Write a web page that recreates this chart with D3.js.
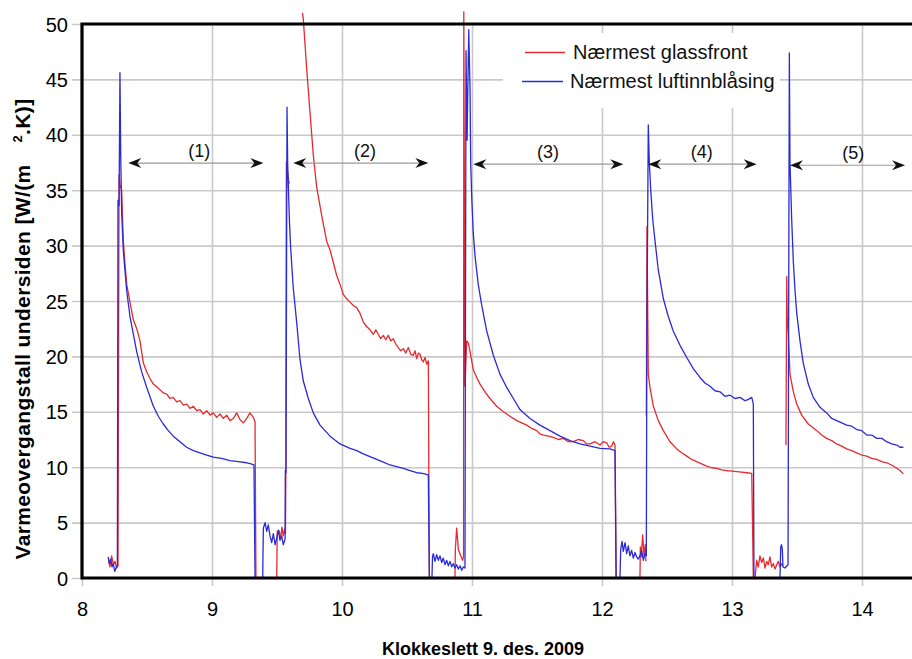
<!DOCTYPE html>
<html><head><meta charset="utf-8">
<script src="https://cdn.jsdelivr.net/npm/d3@7/dist/d3.min.js"></script>
<style>
body{margin:0;background:#fff}
text{font-family:"Liberation Sans",Arial,Helvetica,sans-serif}
</style>
</head><body>
<svg id="chart" width="912" height="659"></svg>
<script>
// ---------- data ----------
const hourTicks = [8, 9, 10, 11, 12, 13, 14];
const valueTicks = [0, 5, 10, 15, 20, 25, 30, 35, 40, 45, 50];
const seriesNames = ["Nærmest glassfront", "Nærmest luftinnblåsing"];
const xTitle = "Klokkeslett 9. des. 2009";
const yTitleMain = "Varmeovergangstall undersiden [W/(m";
const yTitleSup = "2";
const yTitleEnd = ".K)]";

// [clock time in hours, W/(m2K)] ; null = no data logged
const glassfront = [
 [8.202,1.8],[8.215,1.0],[8.228,2.0],[8.241,1.2],[8.254,1.5],[8.267,0.9],[8.277,1.1],
 [8.285,36.4],[8.292,35.5],[8.305,35.0],[8.318,30.4],[8.331,28.3],[8.344,26.5],[8.369,24.9],
 [8.395,23.3],[8.421,22.5],[8.446,21.4],[8.472,19.4],[8.498,18.6],[8.523,18.0],[8.549,17.5],
 [8.600,17.0],[8.626,16.7],[8.652,16.6],[8.677,16.2],[8.702,16.3],[8.728,15.9],[8.754,16.0],
 [8.780,15.6],[8.805,15.7],[8.831,15.3],[8.856,15.5],[8.882,15.1],[8.908,15.2],[8.933,14.8],
 [8.959,15.1],[8.985,14.7],[9.010,14.9],[9.036,14.5],[9.062,14.8],[9.087,14.4],[9.113,14.7],
 [9.138,14.2],[9.164,14.4],[9.190,14.9],[9.215,14.3],[9.241,14.0],[9.267,14.4],[9.292,14.9],
 [9.318,14.5],[9.331,14.1],[9.338,0],[9.498,0],[9.502,4.2],[9.515,4.3],[9.528,3.6],[9.538,4.6],
 [9.548,3.8],[9.559,4.4],[9.565,4.0],
 [9.568,9.5],[9.572,37.5],[9.579,36.8],[9.587,36.0],[9.595,35.6],[9.640,null],
 [9.696,51.0],[9.702,50.5],[9.728,46.0],[9.754,42.0],[9.779,38.2],[9.805,35.3],[9.844,32.7],
 [9.882,30.4],[9.908,29.6],[9.933,28.5],[9.959,27.3],[9.985,26.5],[10.010,25.6],[10.036,25.2],
 [10.062,24.9],[10.087,24.6],[10.113,24.4],[10.138,23.9],[10.164,23.1],[10.190,22.7],[10.215,22.4],
 [10.241,22.0],[10.260,22.4],[10.279,22.0],[10.298,21.6],[10.318,21.9],[10.337,21.5],[10.356,21.9],
 [10.375,21.4],[10.395,21.6],[10.414,21.1],[10.433,20.8],[10.452,20.5],[10.472,20.7],[10.491,20.3],
 [10.510,20.8],[10.529,20.2],[10.548,20.1],[10.562,20.5],[10.575,19.8],[10.588,20.3],[10.600,20.2],
 [10.613,19.7],[10.625,19.5],[10.639,19.9],[10.652,19.3],[10.664,19.6],[10.672,0],
 [10.869,0],[10.872,2.6],[10.882,4.5],[10.895,2.6],[10.913,2.0],[10.928,1.6],[10.935,2.0],
 [10.937,51.1],[10.946,17.3],[10.959,21.4],[10.972,21.2],[10.985,20.4],[11.010,18.8],[11.036,18.1],
 [11.062,17.5],[11.100,16.8],[11.138,16.2],[11.190,15.5],[11.241,15.0],[11.292,14.6],[11.344,14.2],
 [11.382,14.0],[11.421,13.8],[11.460,13.5],[11.498,13.3],[11.523,13.0],[11.549,12.9],[11.587,12.8],
 [11.625,12.7],[11.664,12.5],[11.702,12.6],[11.741,12.3],[11.779,12.3],[11.817,12.5],[11.856,12.4],
 [11.882,12.1],[11.908,12.1],[11.946,12.3],[11.985,12.0],[12.010,12.3],[12.036,12.2],[12.055,11.8],
 [12.075,11.9],[12.088,12.3],[12.100,12.0],[12.110,0],
 [12.292,0],[12.295,2.8],[12.302,1.9],[12.313,3.9],[12.323,2.0],[12.333,3.0],[12.338,1.5],[12.340,null],
 [12.341,14.6],[12.346,31.7],[12.356,18.4],[12.369,17.2],[12.395,15.5],[12.433,14.2],[12.472,13.3],
 [12.523,12.3],[12.575,11.65],[12.613,11.3],[12.652,11.0],[12.690,10.7],[12.728,10.5],[12.767,10.3],
 [12.805,10.1],[12.844,9.95],[12.882,9.9],[12.921,9.75],[12.959,9.7],[12.998,9.65],[13.036,9.6],
 [13.075,9.55],[13.113,9.5],[13.152,9.45],[13.164,0],
 [13.177,0],[13.190,1.6],[13.202,1.0],[13.215,2.0],[13.228,1.4],[13.241,1.8],[13.254,0.9],
 [13.267,1.5],[13.279,1.2],[13.292,1.9],[13.305,1.0],[13.318,1.3],[13.331,0.8],[13.344,1.2],
 [13.356,1.5],[13.369,1.0],[13.382,1.3],[13.392,1.1],[13.400,null],
 [13.415,12.0],[13.421,27.2],[13.425,23.5],[13.433,22.0],[13.446,18.4],[13.472,16.8],[13.498,15.7],
 [13.536,14.7],[13.587,13.9],[13.652,13.3],[13.690,12.9],[13.728,12.6],[13.767,12.4],[13.805,12.1],
 [13.844,11.9],[13.882,11.65],[13.921,11.5],[13.959,11.3],[13.998,11.1],[14.036,11.0],[14.075,10.8],
 [14.113,10.7],[14.152,10.5],[14.190,10.4],[14.228,10.2],[14.267,9.9],[14.292,9.7],[14.318,9.4]
];

const luftinnblasing = [
 [8.202,1.9],[8.210,1.3],[8.221,1.7],[8.231,1.0],[8.241,1.3],[8.252,0.6],[8.262,0.9],[8.272,1.2],
 [8.277,34.1],[8.285,33.6],[8.292,45.6],[8.298,38.0],[8.305,33.0],[8.318,29.5],[8.331,27.7],
 [8.344,25.9],[8.369,23.6],[8.395,22.0],[8.421,20.4],[8.459,18.6],[8.498,17.2],[8.549,15.5],
 [8.587,14.6],[8.625,13.9],[8.664,13.3],[8.702,12.8],[8.754,12.3],[8.805,11.8],[8.856,11.5],
 [8.908,11.3],[8.959,11.1],[9.010,10.9],[9.074,10.8],[9.138,10.6],[9.203,10.5],[9.267,10.4],
 [9.300,10.3],[9.323,10.2],[9.331,0],[9.390,0],
 [9.395,4.5],[9.408,5.0],[9.421,4.2],[9.433,4.8],[9.446,3.8],[9.459,3.2],[9.472,4.0],[9.485,3.0],
 [9.498,3.6],[9.510,4.3],[9.523,3.4],[9.536,3.8],[9.548,3.0],[9.562,3.5],
 [9.564,9.7],[9.569,9.5],[9.577,42.5],[9.582,37.5],[9.595,32.4],[9.605,29.8],[9.625,26.2],
 [9.652,23.0],[9.677,19.7],[9.702,17.8],[9.741,16.2],[9.779,14.9],[9.831,13.8],[9.908,12.8],
 [9.985,12.1],[10.062,11.7],[10.113,11.5],[10.164,11.2],[10.215,10.95],[10.267,10.7],[10.318,10.45],
 [10.369,10.2],[10.421,10.05],[10.472,9.9],[10.523,9.7],[10.575,9.5],[10.619,9.45],[10.664,9.3],
 [10.672,0],[10.692,0],
 [10.696,1.9],[10.702,2.2],[10.715,1.5],[10.728,2.1],[10.741,1.6],[10.754,2.0],[10.767,1.4],
 [10.779,1.8],[10.792,1.2],[10.805,1.6],[10.818,1.1],[10.831,1.5],[10.844,1.0],[10.856,1.3],
 [10.869,0.9],[10.882,1.2],[10.895,0.8],[10.908,1.1],[10.921,0.7],[10.933,1.0],[10.946,0.9],
 [10.954,47.6],[10.962,39.5],[10.975,49.5],[10.985,44.0],[10.990,37.5],[10.998,34.3],[11.010,31.1],
 [11.023,29.1],[11.048,26.5],[11.075,24.6],[11.113,22.3],[11.164,20.1],[11.215,18.4],[11.267,17.2],
 [11.318,16.2],[11.369,15.2],[11.446,14.4],[11.523,13.8],[11.600,13.3],[11.677,12.8],[11.754,12.4],
 [11.831,12.1],[11.908,11.9],[11.985,11.7],[12.062,11.65],[12.100,11.5],[12.108,0],[12.138,0],
 [12.144,2.6],[12.154,3.3],[12.164,2.4],[12.177,3.2],[12.190,2.2],[12.202,2.9],[12.215,2.0],
 [12.228,2.5],[12.241,1.8],[12.254,2.3],[12.267,1.9],[12.279,1.7],[12.292,2.0],[12.305,2.5],
 [12.318,1.6],[12.331,2.2],[12.341,2.0],
 [12.345,21.4],[12.356,40.9],[12.364,37.5],[12.375,35.0],[12.390,32.4],[12.408,30.4],[12.433,27.8],
 [12.472,25.2],[12.510,23.6],[12.548,22.3],[12.600,21.0],[12.652,19.9],[12.702,18.9],[12.754,18.1],
 [12.792,17.6],[12.831,17.3],[12.869,16.9],[12.908,16.8],[12.946,16.4],[12.985,16.5],[13.023,16.2],
 [13.062,16.3],[13.100,16.0],[13.123,16.1],[13.152,16.3],[13.164,15.7],[13.169,0],[13.369,0],
 [13.375,2.8],[13.381,3.0],[13.387,2.6],[13.392,1.0],[13.408,0.9],[13.431,1.2],
 [13.441,47.4],[13.446,37.5],[13.459,32.4],[13.472,28.5],[13.485,25.9],[13.498,23.9],[13.523,21.4],
 [13.548,19.4],[13.587,17.5],[13.625,16.3],[13.677,15.4],[13.728,14.9],[13.767,14.4],[13.805,14.2],
 [13.844,14.0],[13.882,13.8],[13.921,13.7],[13.959,13.4],[13.998,13.3],[14.036,12.9],[14.075,12.9],
 [14.113,12.6],[14.152,12.6],[14.190,12.3],[14.228,12.1],[14.267,12.0],[14.292,11.8],[14.318,11.8]
];

const phaseLabels = ["(1)", "(2)", "(3)", "(4)", "(5)"];
const phaseStart = [8.356, 9.625, 11.010, 12.356, 13.446];
const phaseEnd = [9.395, 10.664, 12.164, 13.190, 14.331];
const phaseLabelAt = [8.902, 10.177, 11.585, 12.767, 13.933];
const phaseLevel = [37.45, 37.45, 37.35, 37.35, 37.25];

// ---------- chart ----------
const W = 912, H = 659;
const svg = d3.select("#chart");
svg.append("rect").attr("width", W).attr("height", H).attr("fill", "#fff");

const x = d3.scaleLinear().domain([8, 14]).range([82, 862]);
const y = d3.scaleLinear().domain([0, 50]).range([578, 24]);
const gridColor = "#c9c9c9";

// x axis + vertical gridlines
const gx = svg.append("g").attr("transform", "translate(0,578)")
  .call(d3.axisBottom(x).tickValues(hourTicks).tickFormat(d3.format("d")).tickSize(8));
gx.select(".domain").remove();
gx.selectAll(".tick line").attr("y1", 8).attr("y2", -(578 - 24)).attr("stroke", gridColor).attr("stroke-width", 1.6);
gx.selectAll(".tick text").attr("y", 38).attr("dy", 0).attr("font-size", 20).attr("fill", "#000")
  .style("font-family", '"Liberation Sans", Arial, sans-serif');

// y axis + horizontal gridlines
const gy = svg.append("g").attr("transform", "translate(82,0)")
  .call(d3.axisLeft(y).tickValues(valueTicks).tickFormat(d3.format("d")).tickSize(10));
gy.select(".domain").remove();
gy.selectAll(".tick line").attr("x1", W).attr("x2", -10).attr("stroke", gridColor).attr("stroke-width", 1.6);
gy.selectAll(".tick text").attr("x", -14).attr("dy", "0.35em").attr("font-size", 20).attr("fill", "#000")
  .style("font-family", '"Liberation Sans", Arial, sans-serif');

// legend background
svg.append("rect").attr("x", 503).attr("y", 33).attr("width", 277).attr("height", 75).attr("fill", "#fff");

// curves
const line = d3.line().defined(d => d[1] !== null).x(d => x(d[0])).y(d => y(d[1]));
const colors = ["#e62a2e", "#2a2ad8"];
svg.append("path").datum(glassfront).attr("d", line).attr("fill", "none")
  .attr("stroke", colors[0]).attr("stroke-width", 1.3).attr("stroke-linejoin", "round");
svg.append("path").datum(luftinnblasing).attr("d", line).attr("fill", "none")
  .attr("stroke", colors[1]).attr("stroke-width", 1.3).attr("stroke-linejoin", "round");

// frame
svg.append("path").attr("d", `M${W + 5},${y(50)}H${x(8)}V${y(0)}H${W + 5}`)
  .attr("fill", "none").attr("stroke", "#000").attr("stroke-width", 3.2);

// phase arrows
const head = (tx, ty, dir) =>
  `M${tx},${ty}L${tx - dir * 13},${ty - 5}L${tx - dir * 9},${ty}L${tx - dir * 13},${ty + 5}Z`;
phaseLabels.forEach((lab, i) => {
  const x0 = x(phaseStart[i]), x1 = x(phaseEnd[i]), yy = y(phaseLevel[i]);
  svg.append("line").attr("x1", x0 + 6).attr("x2", x1 - 6).attr("y1", yy).attr("y2", yy)
    .attr("stroke", "#9a9a9a").attr("stroke-width", 1.2);
  svg.append("path").attr("d", head(x0, yy, -1)).attr("fill", "#111");
  svg.append("path").attr("d", head(x1, yy, 1)).attr("fill", "#111");
  svg.append("text").attr("x", x(phaseLabelAt[i])).attr("y", yy - 6).attr("text-anchor", "middle")
    .attr("font-size", 18).attr("fill", "#111").text(lab);
});

// legend
const leg = [{x1: 525, x2: 565, ly: 52.5, tx: 573, ty: 59}, {x1: 522, x2: 563, ly: 81.5, tx: 570, ty: 88}];
seriesNames.forEach((n, i) => {
  svg.append("line").attr("x1", leg[i].x1).attr("x2", leg[i].x2).attr("y1", leg[i].ly).attr("y2", leg[i].ly)
    .attr("stroke", colors[i]).attr("stroke-width", 1.6);
  svg.append("text").attr("x", leg[i].tx).attr("y", leg[i].ty).attr("font-size", 20).attr("fill", "#111").text(n);
});

// axis titles
svg.append("text").attr("x", 483).attr("y", 655).attr("text-anchor", "middle")
  .attr("font-size", 18).attr("font-weight", "bold").attr("fill", "#000").text(xTitle);

const yt = svg.append("text").attr("transform", "translate(30,329) rotate(-90)")
  .attr("text-anchor", "middle").attr("font-size", 21).attr("font-weight", "bold")
  .attr("letter-spacing", 0.35).attr("fill", "#000");
yt.append("tspan").text(yTitleMain);
yt.append("tspan").attr("dx", 22).attr("dy", -8).attr("font-size", 13).text(yTitleSup);
yt.append("tspan").attr("dy", 8).text(yTitleEnd);
</script>
</body></html>
